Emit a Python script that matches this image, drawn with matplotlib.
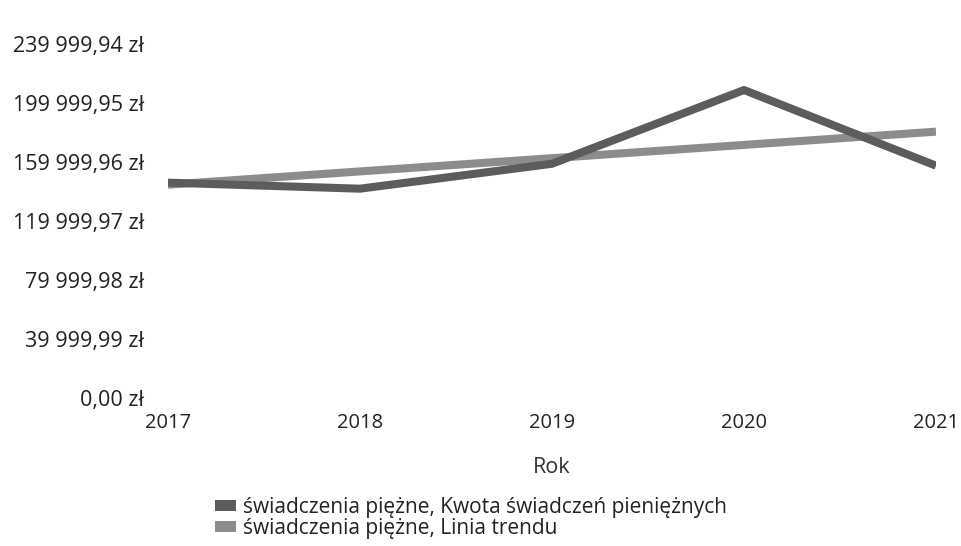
import numpy as np
import matplotlib
matplotlib.use("Agg")
import matplotlib.pyplot as plt
from matplotlib.patches import Patch
from matplotlib.ticker import FuncFormatter

plt.rcParams['font.family'] = ['Open Sans', 'DejaVu Sans']

years = [2017, 2018, 2019, 2020, 2021]
amounts = [146000, 141900, 158800, 208800, 157500]
y_ticks = [0.00, 39999.99, 79999.98, 119999.97, 159999.96, 199999.95, 239999.94]
series_names = ["świadczenia piężne, Kwota świadczeń pieniężnych",
                "świadczenia piężne, Linia trendu"]
x_label = "Rok"

col_main = "#5c5c5c"
col_trend = "#8c8c8c"

# linear trend line fitted to the series
coef = np.polyfit(years, amounts, 1)
trend = np.polyval(coef, years)

fig = plt.figure(figsize=(9.62, 5.46), dpi=100)
ax = fig.add_axes([168/962, 1-398/546, (936-168)/962, (398-44)/546])

ax.plot(years, amounts, color=col_main, lw=5.8, solid_capstyle='butt', zorder=3)
ax.plot(years, trend, color=col_trend, lw=5.8, solid_capstyle='butt', zorder=2)

ax.set_xlim(years[0], years[-1])
ax.set_ylim(y_ticks[0], y_ticks[-1])
ax.set_xticks(years)
ax.set_yticks(y_ticks)

def fmt(v, pos):
    s = f"{v:,.2f}"
    s = s.replace(",", " ").replace(".", ",")
    return s + " zł"

ax.yaxis.set_major_formatter(FuncFormatter(fmt))
for sp in ax.spines.values():
    sp.set_visible(False)
ax.tick_params(axis='both', length=0, colors="#222222")
ax.tick_params(axis='y', pad=17, labelsize=15.5)
ax.tick_params(axis='x', pad=11, labelsize=14.5)
ax.set_xlabel(x_label, fontsize=15.5, color="#333333", labelpad=17)

handles = [Patch(facecolor=col_main, edgecolor='none'),
           Patch(facecolor=col_trend, edgecolor='none')]
fig.legend(handles, series_names, loc='upper left', bbox_to_anchor=(215/962, 1-497/546),
           frameon=False, fontsize=15.0, handlelength=1.0, handleheight=0.45,
           handletextpad=0.35, labelspacing=0.0, borderpad=0, borderaxespad=0,
           labelcolor="#222222")

fig.savefig("out.png", dpi=100)
